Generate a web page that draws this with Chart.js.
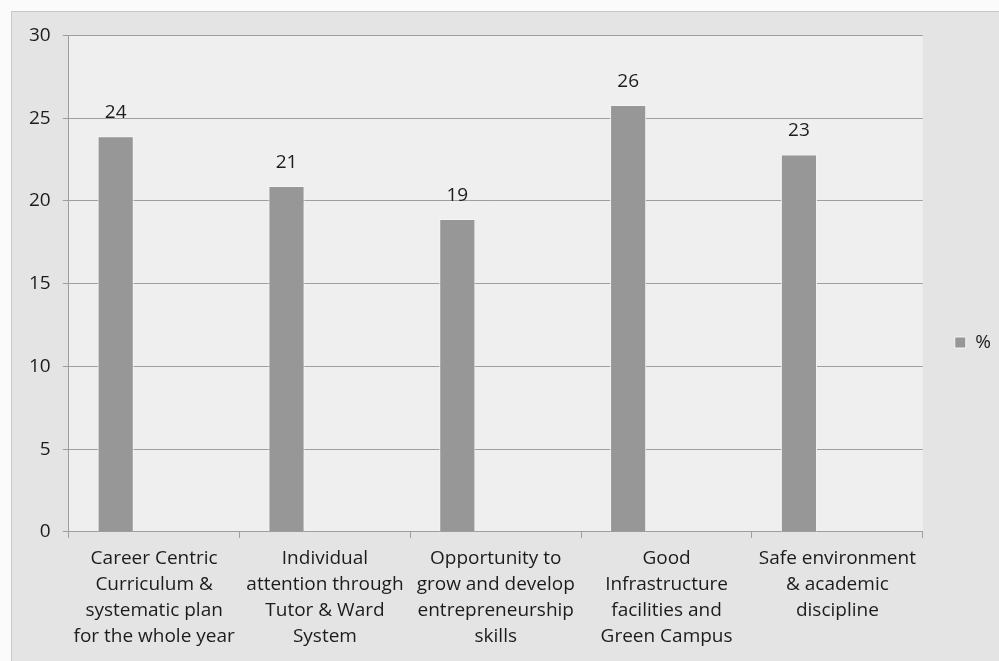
<!DOCTYPE html>
<html lang="en">
<head>
  <meta charset="UTF-8">
  <title>Grafico</title>
  <script src="https://cdn.jsdelivr.net/npm/chart.js"></script>
  <style>
    body { margin: 0; background: #fbfbfb; }
    .quadro {
      position: absolute; left: 11px; top: 11px; width: 988px; height: 650px;
      background: #e4e4e4; border-left: 1px solid #c8c8c8; border-top: 1px solid #c8c8c8;
    }
  </style>
</head>
<body>
  <div class="quadro"><canvas id="grafico"></canvas></div>
  <script>
    const categorias = [
      ["Career Centric", "Curriculum &", "systematic plan", "for the whole year"],
      ["Individual", "attention through", "Tutor & Ward", "System"],
      ["Opportunity to", "grow and develop", "entrepreneurship", "skills"],
      ["Good", "Infrastructure", "facilities and", "Green Campus"],
      ["Safe environment", "& academic", "discipline"]
    ];
    const valores = [23.9, 20.9, 18.9, 25.8, 22.8];
    const rotulos = ["24", "21", "19", "26", "23"];
    const ticksY = [0, 5, 10, 15, 20, 25, 30];

    const fonte = "'Open Sans', 'DejaVu Sans', sans-serif";

    // fundo da area do grafico
    const fundoArea = {
      id: "fundoArea",
      beforeDraw(chart) {
        const { ctx, chartArea: a } = chart;
        ctx.save();
        ctx.fillStyle = "#efefef";
        ctx.fillRect(a.left, a.top, a.right - a.left, a.bottom - a.top);
        ctx.restore();
      }
    };

    // numeros em cima das barras
    const rotulosBarras = {
      id: "rotulosBarras",
      afterDatasetsDraw(chart) {
        const ctx = chart.ctx;
        const meta = chart.getDatasetMeta(0);
        ctx.save();
        ctx.fillStyle = "#1c1c1c";
        ctx.font = "19px " + fonte;
        ctx.textAlign = "center";
        ctx.textBaseline = "bottom";
        meta.data.forEach((barra, i) => {
          ctx.fillText(rotulos[i], barra.x, barra.y - 14);
        });
        ctx.restore();
      }
    };

    new Chart(document.getElementById("grafico"), {
      type: "bar",
      data: {
        labels: categorias,
        datasets: [{
          label: "%",
          data: valores,
          backgroundColor: "#979797",
          borderColor: "#f4f4f4",
          borderWidth: 1,
          barPercentage: 0.47,
          categoryPercentage: 0.9
        }, {
          // serie vazia do Excel que empurra as barras para a esquerda
          label: "",
          data: [null, null, null, null, null],
          barPercentage: 0.47,
          categoryPercentage: 0.9
        }]
      },
      options: {
        responsive: true,
        maintainAspectRatio: false,
        animation: false,
        layout: { padding: { top: 15, right: -1, bottom: 4, left: 5 } },
        scales: {
          y: {
            min: 0, max: 30,
            afterBuildTicks: axis => { axis.ticks = ticksY.map(v => ({ value: v })); },
            ticks: { color: "#1c1c1c", font: { size: 19, family: fonte }, padding: 12 },
            grid: { color: "#9e9e9e", tickLength: 6 },
            border: { color: "#9e9e9e" }
          },
          x: {
            ticks: { color: "#1c1c1c", font: { size: 19, family: fonte, lineHeight: 1.37 }, padding: 8, maxRotation: 0, autoSkip: false },
            grid: { display: true, offset: true, drawOnChartArea: false, color: "#9e9e9e", tickLength: 6 },
            border: { color: "#9e9e9e" }
          }
        },
        plugins: {
          legend: {
            position: "right",
            labels: {
              color: "#1c1c1c", font: { size: 19, family: fonte }, boxWidth: 11, boxHeight: 11, padding: 32,
              filter: item => item.text !== ""
            }
          },
          tooltip: { enabled: false }
        }
      },
      plugins: [fundoArea, rotulosBarras]
    });
  </script>
</body>
</html>
